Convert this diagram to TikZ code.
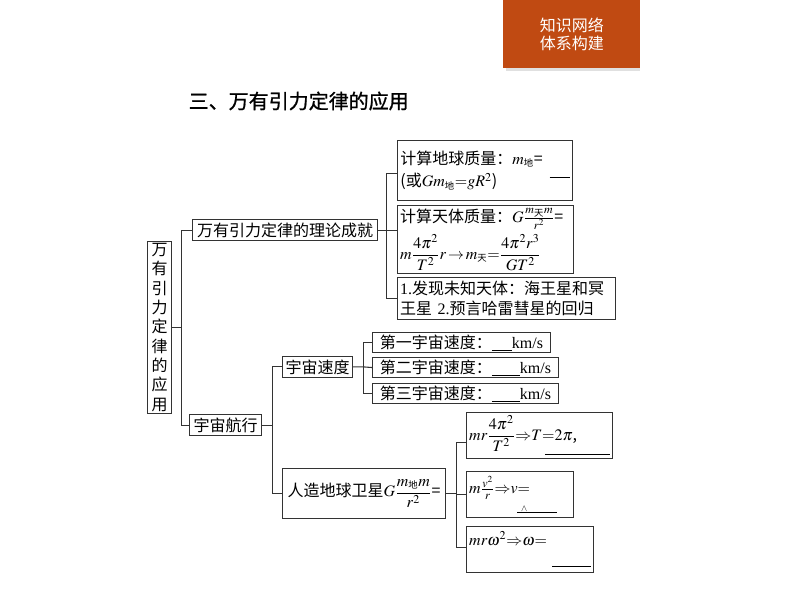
\documentclass[tikz,border=0pt]{standalone}
\usepackage{amsmath}
\usepackage{mathptmx}
\usepackage{fontspec}
\setmainfont{Liberation Serif}
\newfontfamily\cjk{Noto Sans CJK SC}
\newfontfamily\cjkt[FakeBold=1]{Noto Sans CJK SC}
\usetikzlibrary{positioning,calc}
\definecolor{tagorange}{RGB}{192,74,18}
\newcommand\subdi{\mbox{\cjk\fontsize{7}{7}\selectfont 地}}
\newcommand\subtian{\mbox{\cjk\fontsize{7}{7}\selectfont 天}}
\newcommand\blankln[1]{\rule[-1.5pt]{#1}{0.6pt}}

\begin{document}
\begin{tikzpicture}[x=0.75pt,y=-0.75pt,
  bx/.style={draw=black!80,line width=0.8pt,inner xsep=2pt,inner ysep=1pt,anchor=north west,
    font=\cjk\fontsize{12}{17}\selectfont},
  ln/.style={draw=black!80,line width=0.8pt}]
\useasboundingbox (0,0) rectangle (794,596);

% --- tag and heading ---
\fill[black!12] (506,68) rectangle (640,71);
\node[fill=tagorange,text=white,anchor=north west,minimum width=102.75pt,minimum height=51pt,
  align=center,font=\cjk\fontsize{12}{13.5}\selectfont] (tag) at (503,0) {知识网络\\体系构建};
\node[anchor=west,font=\cjkt\fontsize{15}{18}\selectfont] (title) at (184,101) {三、万有引力定律的应用};

% --- root and first level ---
\node[bx,minimum width=18pt,minimum height=129pt,align=center,inner xsep=1pt,
  font=\cjk\fontsize{12}{14.5}\selectfont] (root) at (147,241)
  {万\\有\\引\\力\\定\\律\\的\\应\\用};
\node[bx,minimum width=138.75pt,minimum height=15.75pt] (th) at (192,219) {万有引力定律的理论成就};
\node[bx,minimum width=54pt,minimum height=15.75pt] (hx) at (189,414) {宇宙航行};

% --- theory branch ---
\node[bx,minimum width=131.25pt,minimum height=45pt,text width=127pt,align=left] (m1) at (397,140)
  {计算地球质量：$m_{\subdi}$=\\(或$Gm_{\subdi}{=}gR^2$)\hfill\rule[7pt]{15pt}{0.6pt}\hspace*{4pt}};
\node[bx,minimum width=132pt,minimum height=51pt,text width=128pt,align=left] (m2) at (397,205)
  {计算天体质量：$G\frac{m_{\subtian}m}{r^2}$=\\[3pt]$m\dfrac{4\pi^2}{T^2}r\,{\rightarrow}\,m_{\subtian}{=}\dfrac{4\pi^2r^3}{GT^2}$};
\node[bx,minimum width=163.5pt,minimum height=31.5pt,text width=159.5pt,align=left,
  font=\cjk\fontsize{12}{15.5}\selectfont] (m3) at (397,277)
  {{\rmfamily 1.}发现未知天体：海王星和冥\\王星 {\rmfamily 2.}预言哈雷彗星的回归};

% --- space travel branch ---
\node[bx,minimum width=52.5pt,minimum height=15.5pt] (sd) at (282,356) {宇宙速度};
\node[bx,minimum width=133.5pt,minimum height=15pt] (v1) at (372,332) {第一宇宙速度：\blankln{15pt}{\rmfamily km/s}};
\node[bx,minimum width=139.5pt,minimum height=15pt] (v2) at (372,357) {第二宇宙速度：\blankln{21pt}{\rmfamily km/s}};
\node[bx,minimum width=139.5pt,minimum height=15pt] (v3) at (372,383) {第三宇宙速度：\blankln{21pt}{\rmfamily km/s}};
\node[bx,minimum width=122.25pt,minimum height=37.5pt] (ws) at (282,468) {人造地球卫星$G\dfrac{m_{\subdi}m}{r^2}$=};

\node[bx,minimum width=109.5pt,minimum height=34.5pt,text width=105.5pt,align=left] (sa) at (466,412)
  {$mr\dfrac{4\pi^2}{T^2}{\Rightarrow}T{=}2\pi$,\\[-6pt]\hspace*{1pt}\hfill\rule{48.75pt}{0.6pt}};
\node[bx,minimum width=80.25pt,minimum height=34.5pt,text width=76.25pt,align=left] (sb) at (466,471)
  {$m\frac{v^2}{r}{\Rightarrow}v{=}$\\[-3pt]\hspace*{36pt}\rlap{\hspace{3pt}\raisebox{0.5pt}{$\scriptscriptstyle\wedge$}}\rule{30pt}{0.6pt}};
\node[bx,minimum width=95.25pt,minimum height=34.5pt,text width=91.25pt,align=left] (sc) at (466,526)
  {$mr\omega^2{\Rightarrow}\omega{=}$\\[-1pt]\hspace*{1pt}\hfill\rule{29pt}{0.6pt}\hspace*{2pt}};

% --- connectors ---
\coordinate (j0) at ([shift={(9,0)}]root.east);
\coordinate (j1) at ([shift={(8,0)}]th.east);
\coordinate (j2) at ([shift={(10,0)}]hx.east);
\coordinate (j3) at ([shift={(10,0)}]sd.east);
\coordinate (j4) at ([shift={(10,0)}]ws.east);

\draw[ln] (root.east) -- (j0);
\draw[ln] (th.west) -| (j0) |- (hx.west);
\draw[ln] (th.east) -- (j1) -- (j1 -| m2.west);
\draw[ln] ([yshift=-2.25pt]m1.west) -| (j1) |- (m3.west);
\draw[ln] (hx.east) -- (j2);
\draw[ln] (sd.west) -| (j2) |- (ws.west);
\draw[ln] (sd.east) -- (j3) -- (v2.west);
\draw[ln] (v1.west) -| (j3) |- (v3.west);
\draw[ln] (ws.east) -- (j4) -- (j4 |- sb.west) -- (sb.west);
\draw[ln] ([yshift=-5.25pt]sa.west) -| (j4) |- ([yshift=1.5pt]sc.west);
\end{tikzpicture}
\end{document}
